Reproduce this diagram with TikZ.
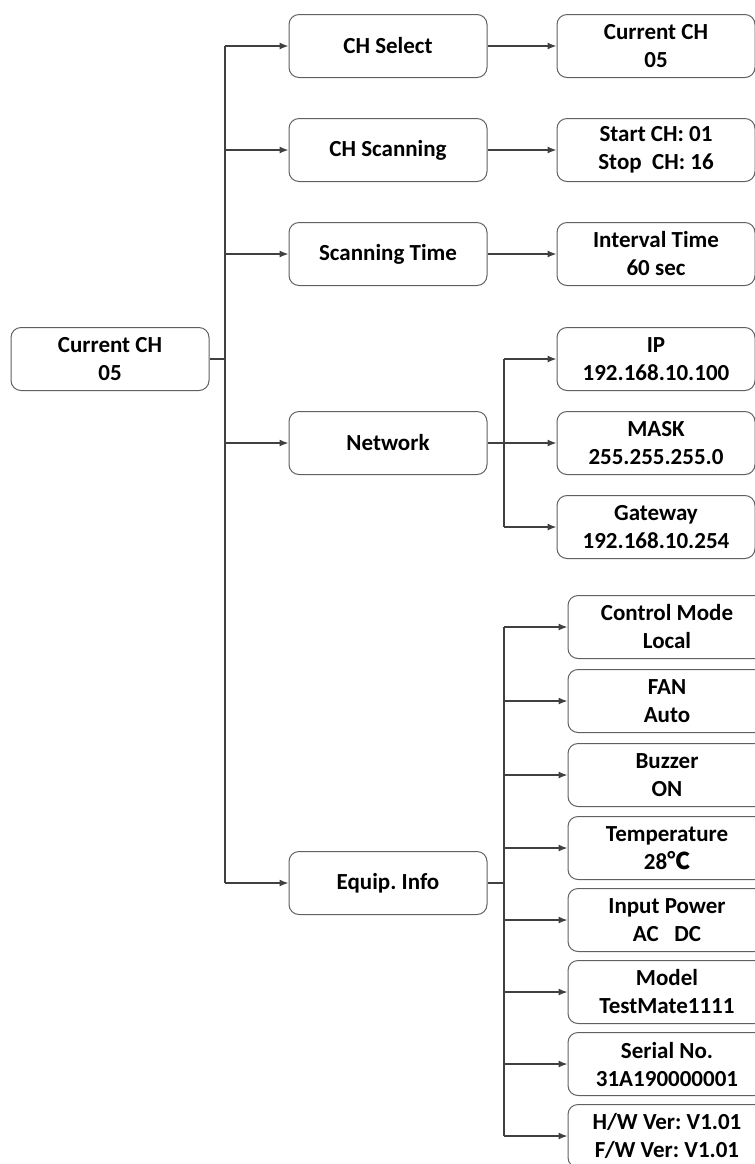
\documentclass[tikz,border=0pt]{standalone}
\usepackage{fontspec}
\setmainfont{Carlito}
\newfontfamily\cjk{Noto Sans CJK SC}
\usetikzlibrary{arrows.meta,positioning}
\definecolor{boxgray}{HTML}{606060}
\definecolor{linegray}{HTML}{404040}
\tikzset{line/.style={draw=linegray,line width=0.65pt,-{Latex[length=4.5pt,width=3.5pt]}}}
\frenchspacing

\begin{document}
\begin{tikzpicture}[x=0.5pt,y=-0.5pt,
box/.style={draw=boxgray,line width=0.5pt,rounded corners=5pt,minimum width=99pt,minimum height=31.5pt,
 align=center,inner sep=0pt,font=\bfseries\fontsize{11.5}{14}\selectfont},
wire/.style={draw=linegray,line width=0.65pt}]
 \useasboundingbox (0,0) rectangle (755,1164);
 \clip (0,0) rectangle (755,1164);
 % first two levels
 \node[box] (cur) at (110,359) {Current CH\\05};
 \node[box] (sel) at (388,46) {CH Select};
 \node[box] (scan) at (388,150) {CH Scanning};
 \node[box] (time) at (388,254) {Scanning Time};
 \node[box] (net) at (388,443) {Network};
 \node[box] (equip) at (388,883) {Equip. Info};
 \node[box] (selv) at (656,46) {Current CH\\05};
 \node[box] (scanv) at (656,150) {Start CH: 01\\Stop\ \ CH: 16};
 \node[box] (timev) at (656,254) {Interval Time\\60 sec};
 \node[box] (ip) at (656,359) {IP\\192.168.10.100};
 \node[box] (mask) at (656,443) {MASK\\255.255.255.0};
 \node[box] (gw) at (656,527) {Gateway\\192.168.10.254};
 % equipment info
 \foreach \N/\Y/\T in {mode/627/{Control Mode\\Local},fan/701/{FAN\\Auto},buzz/775/{Buzzer\\ON},
  temp/848/{Temperature\\28{\cjk ℃}},pow/920/{Input Power\\AC\ \ \ DC},model/992/{Model\\TestMate1111},
  sn/1064/{Serial No.\\31A190000001},ver/1136/{H/W Ver: V1.01\\F/W Ver: V1.01}}
 {\node[box] (\N) at (667,\Y) {\T};}
 \coordinate (trunk) at (225,359);
 \coordinate (nf) at (504,443);
 \coordinate (ef) at (504,883);
 \draw[wire] (cur.east) -- (trunk);
 \draw[wire] (sel.west -| trunk) -- (equip.west -| trunk);
 \foreach \X in {sel,scan,time,net,equip}
 {\draw[line] (\X.west -| trunk) -- (\X.west);}
 \draw[line] (sel) -- (selv);
 \draw[line] (scan) -- (scanv);
 \draw[line] (time) -- (timev);
 \draw[wire] (net.east) -- (nf);
 \draw[wire] (ip.west -| nf) -- (gw.west -| nf);
 \foreach \X in {ip,mask,gw}
 {\draw[line] (\X.west -| nf) -- (\X.west);}
 \draw[wire] (equip.east) -- (ef);
 \draw[wire] (mode.west -| ef) -- (ver.west -| ef);
 \foreach \X in {mode,fan,buzz,temp,pow,model,sn,ver}
 {\draw[line] (\X.west -| ef) -- (\X.west);}
\end{tikzpicture}
\end{document}
